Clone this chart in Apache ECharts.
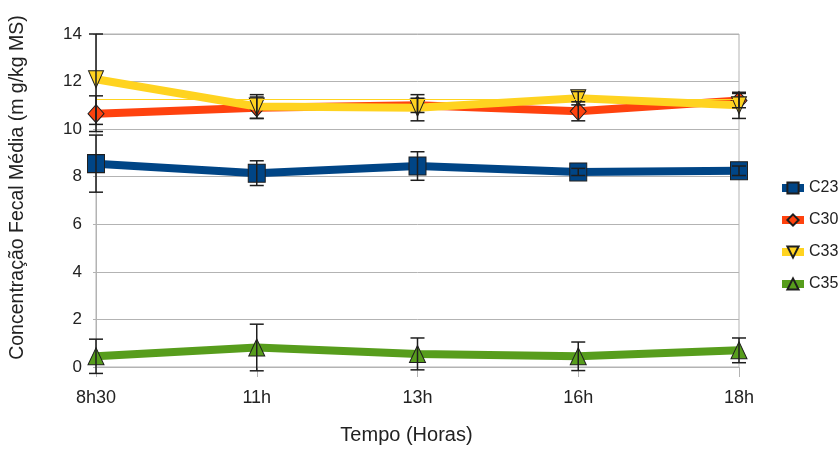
<!DOCTYPE html>
<html>
<head>
<meta charset="utf-8">
<script src="https://cdn.jsdelivr.net/npm/echarts@6/dist/echarts.min.js"></script>
<style>
  html, body { margin: 0; padding: 0; background: #ffffff; }
  #chart { width: 839px; height: 451px; }
</style>
</head>
<body>
<div id="chart"></div>
<script>
// Time of sampling
const categories = ['8h30', '11h', '13h', '16h', '18h'];

// Mean fecal concentration (mg/kg MS) per alkane
const c23 = [8.55, 8.15, 8.45, 8.2, 8.25];
const c30 = [10.65, 10.9, 11.0, 10.75, 11.2];
const c33 = [12.1, 10.95, 10.9, 11.3, 11.0];
const c35 = [0.45, 0.82, 0.55, 0.45, 0.7];

// Standard deviation for each point
const c23Err = [1.2, 0.52, 0.6, 0.15, 0.2];
const c30Err = [0.75, 0.45, 0.3, 0.4, 0.3];
const c33Err = [1.9, 0.5, 0.55, 0.28, 0.55];
const c35Err = [0.72, 0.98, 0.67, 0.6, 0.52];

const yTicks = { min: 0, max: 14, step: 2 };

const FONT = '"Liberation Sans", Arial, sans-serif';
const GRID_COLOR = '#b3b3b3';
const EDGE = '#1e1e1e';

const seriesDefs = [
  { name: 'C23', data: c23, err: c23Err, color: '#004586', symbol: 'rect', size: [17, 18], rotate: 0 },
  { name: 'C30', data: c30, err: c30Err, color: '#ff420e', symbol: 'diamond', size: [16, 18], rotate: 0 },
  { name: 'C33', data: c33, err: c33Err, color: '#ffd320', symbol: 'triangle', size: [15, 17], rotate: 180 },
  { name: 'C35', data: c35, err: c35Err, color: '#579d1c', symbol: 'triangle', size: [16, 17], rotate: 0 }
];

function errorBarSeries(def, z) {
  return {
    type: 'custom',
    z: z,
    silent: true,
    data: def.data.map((v, i) => [i, v, def.err[i]]),
    encode: { x: 0, y: 1 },
    renderItem: function (params, api) {
      const i = api.value(0);
      const v = api.value(1);
      const e = api.value(2);
      const top = api.coord([i, v + e]);
      const bot = api.coord([i, v - e]);
      const half = 7;
      const style = { stroke: EDGE, lineWidth: 1.5 };
      return {
        type: 'group',
        children: [
          { type: 'line', shape: { x1: top[0], y1: top[1], x2: bot[0], y2: bot[1] }, style: style },
          { type: 'line', shape: { x1: top[0] - half, y1: top[1], x2: top[0] + half, y2: top[1] }, style: style },
          { type: 'line', shape: { x1: bot[0] - half, y1: bot[1], x2: bot[0] + half, y2: bot[1] }, style: style }
        ]
      };
    }
  };
}

const series = [];
seriesDefs.forEach((def, k) => {
  const s = {
    name: def.name,
    type: 'line',
    z: 2 + k,
    data: def.data,
    symbol: def.symbol,
    symbolSize: def.size,
    symbolRotate: def.rotate,
    showAllSymbol: true,
    lineStyle: { color: def.color, width: 8 },
    itemStyle: { color: def.color, borderColor: EDGE, borderWidth: 1 },
    emphasis: { disabled: true },
    animation: false
  };
  if (def.name === 'C33') {
    // Mean value line of the series
    s.markLine = {
      silent: true,
      symbol: ['none', 'none'],
      label: { show: false },
      lineStyle: { color: def.color, width: 1, type: 'solid' },
      data: [{ type: 'average' }],
      animation: false
    };
  }
  series.push(s);
});
seriesDefs.forEach((def, k) => series.push(errorBarSeries(def, 10 + k)));

const chart = echarts.init(document.getElementById('chart'), null, { renderer: 'canvas' });
chart.setOption({
  animation: false,
  backgroundColor: '#ffffff',
  textStyle: { fontFamily: FONT },
  grid: {
    left: 95, right: 100, top: 34, bottom: 84,
    show: true, borderColor: GRID_COLOR, borderWidth: 1
  },
  legend: {
    data: seriesDefs.map(d => d.name),
    orient: 'vertical',
    left: 773,
    top: 175,
    itemWidth: 22,
    itemHeight: 14,
    itemGap: 16,
    lineStyle: { width: 8 },
    textStyle: { fontFamily: FONT, fontSize: 16, color: '#222' }
  },
  xAxis: {
    type: 'category',
    data: categories,
    boundaryGap: false,
    axisLine: { lineStyle: { color: GRID_COLOR, width: 1 } },
    axisTick: { show: true, length: 10, lineStyle: { color: GRID_COLOR } },
    axisLabel: { fontFamily: FONT, fontSize: 18, color: '#222', margin: 22 },
    splitLine: { show: false },
    name: 'Tempo (Horas)',
    nameLocation: 'middle',
    nameGap: 58,
    nameTextStyle: { fontFamily: FONT, fontSize: 20, color: '#222', padding: [0, 22, 0, 0] }
  },
  yAxis: {
    type: 'value',
    min: yTicks.min,
    max: yTicks.max,
    interval: yTicks.step,
    axisLine: { show: true, lineStyle: { color: GRID_COLOR, width: 1 } },
    axisTick: { show: true, length: 3, lineStyle: { color: GRID_COLOR } },
    axisLabel: { fontFamily: FONT, fontSize: 17, color: '#222', margin: 14 },
    splitLine: { show: true, lineStyle: { color: GRID_COLOR, width: 1 } },
    name: 'Concentração Fecal Média (m g/kg MS)',
    nameLocation: 'middle',
    nameGap: 68,
    nameTextStyle: { fontFamily: FONT, fontSize: 19.5, color: '#222', padding: [0, 0, 0, 26] }
  },
  series: series
});
</script>
</body>
</html>
